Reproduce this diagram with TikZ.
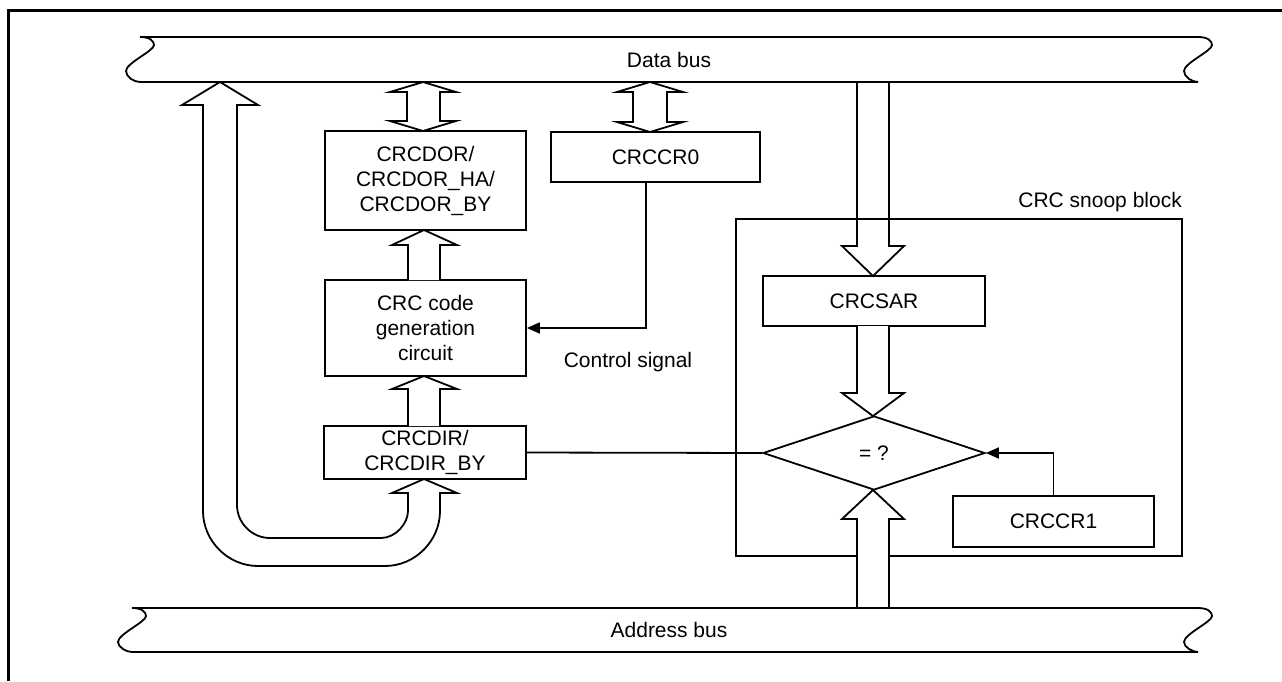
\documentclass[tikz,border=0pt]{standalone}
\usepackage{fontspec}
\setmainfont{Liberation Sans}
\usetikzlibrary{arrows.meta,shapes.geometric,calc}
\begin{document}
\begin{tikzpicture}[x=1pt,y=-1pt,
  every node/.style={font=\fontsize{21}{25}\selectfont},
  box/.style={draw, line width=1.8pt, inner sep=0pt, align=center},
  blockarrow/.style={draw, line width=1.8pt, fill=white, line join=miter},
  bus/.style={draw, line width=1.8pt},
  sig/.style={draw, line width=1.8pt, -{Triangle[length=13pt,width=11pt]}},
  plainline/.style={draw, line width=1.8pt},
  frameline/.style={draw, line width=3pt}]
\useasboundingbox (0,0) rectangle (1282,681);
% outer frame
\draw[frameline] (1282,10) -- (8,10) -- (8,681);

% boxes
\node[box, minimum width=201pt, minimum height=99pt] (crcdor) at (425.5,180.5) {CRCDOR/\\CRCDOR\_HA/\\CRCDOR\_BY};
\node[box, minimum width=201pt, minimum height=96pt] (crcgen) at (425.5,328) {CRC code\\generation\\circuit};
\node[box, minimum width=202pt, minimum height=53pt] (crcdir) at (425,452.5) {CRCDIR/\\CRCDIR\_BY};
\node[box, minimum width=209pt, minimum height=50pt] (crccr0) at (655.5,157) {CRCCR0};
\node[box, minimum width=446pt, minimum height=337pt] (snoop) at (959,387.5) {};
\node[box, minimum width=222pt, minimum height=50pt] (crcsar) at (874,301) {CRCSAR};
\node[draw, diamond, line width=1.8pt, minimum width=222pt, minimum height=74pt, inner sep=0pt, aspect=3] (eq) at (874,453) {= ?};
\node[box, minimum width=201pt, minimum height=51pt] (crccr1) at (1053.5,521.5) {CRCCR1};

% labels
\node[anchor=base east, inner sep=0pt] (snooplabel) at (1182,207) {CRC snoop block};
\node[anchor=base, inner sep=0pt] (ctrl) at (628,367) {Control signal};

% signal lines
\draw[sig] ($(crccr0.south west)+(96,0)$) |- (crcgen.east);
\draw[plainline] (crcdir.east) -- (eq.west);
\draw[sig] (crccr1.north) |- (eq.east);

% block arrows, left part
\draw[blockarrow] (220,82) -- (258,105) -- (237,105) -- (237,505)
  .. controls (237,523) and (252,538) .. (270,538) -- (381,538)
  .. controls (396,538) and (408,523) .. (408,511) -- (408,493) -- (392,493)
  -- (424,479) -- (457,493) -- (440,493) -- (440,511)
  .. controls (440,541) and (415,566) .. (385,566) -- (258,566)
  .. controls (228,566) and (203,541) .. (203,511) -- (203,105) -- (182,105) -- cycle;
\draw[blockarrow] (423,82) -- (456,92) -- (440,92) -- (440,121) -- (456,121) -- (423,131)
  -- (390,121) -- (407,121) -- (407,92) -- (390,92) -- cycle;
\draw[blockarrow] (408,280) -- (408,245) -- (392,245) -- (424,230) -- (457,245) -- (440,245) -- (440,280);
\draw[blockarrow] (408,426) -- (408,389) -- (392,389) -- (424,376) -- (457,389) -- (440,389) -- (440,426);
\draw[blockarrow] (650,82) -- (683,92) -- (667,92) -- (667,122) -- (683,122) -- (650,132)
  -- (617,122) -- (633,122) -- (633,92) -- (617,92) -- cycle;

% block arrows, snoop part
\draw[line width=1.8pt] (857,82) -- (857,246) -- (842,246) -- (873,276) -- (904,246) -- (889,246) -- (889,82);
\draw[blockarrow] (857,326) -- (857,393) -- (842,393) -- (873,416) -- (904,393) -- (889,393) -- (889,326);
\draw[blockarrow] (857,608) -- (857,519) -- (842,519) -- (873,490) -- (904,519) -- (889,519) -- (889,608);

% data bus
\draw[bus] (140,37) -- (1198,37) .. controls (1208,37) and (1212,41) .. (1212,45)
  .. controls (1212,51) and (1184,63) .. (1184,71) .. controls (1184,77) and (1192,82) .. (1198,82)
  -- (140,82) .. controls (134,82) and (126,77) .. (126,71)
  .. controls (126,63) and (154,51) .. (154,45) .. controls (154,41) and (150,37) .. (140,37) -- cycle;
\node (dbus) at (669,60) {Data bus};

% address bus
\draw[bus] (132,608) -- (1198,608) .. controls (1208,608) and (1212,612) .. (1212,616)
  .. controls (1212,622) and (1184,634) .. (1184,642) .. controls (1184,647) and (1192,652) .. (1198,652)
  -- (132,652) .. controls (126,652) and (118,647) .. (118,642)
  .. controls (118,634) and (146,622) .. (146,616) .. controls (146,612) and (142,608) .. (132,608) -- cycle;
\node (abus) at (669,630) {Address bus};
\end{tikzpicture}
\end{document}
